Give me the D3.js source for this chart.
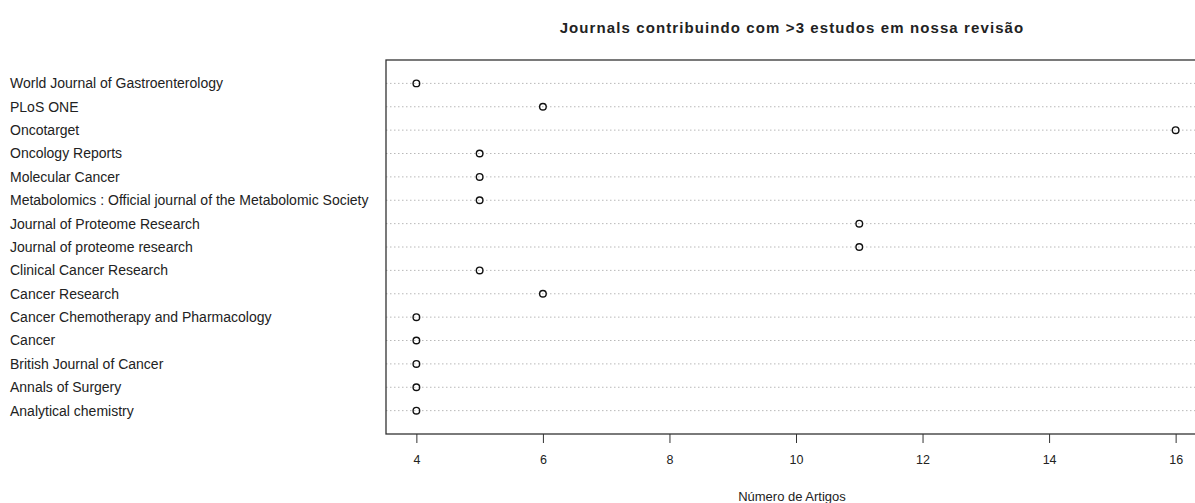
<!DOCTYPE html>
<html lang="pt">
<head>
  <meta charset="UTF-8">
  <title>Journals dotchart</title>
  <style>
  body { margin: 0; background: #fff; }
  text { font-family: "Liberation Sans", Arial, sans-serif; fill: #222; }
  .grid { stroke: #b8b8b8; stroke-dasharray: 1.5 2.5; stroke-width: 1; }
  .dot { fill: none; stroke: #111; stroke-width: 1.4; }
  </style>
  <script src="https://cdnjs.cloudflare.com/ajax/libs/d3/7.8.5/d3.min.js"></script>
</head>
<body>
<div id="chart"></div>
<script>
// journals, top to bottom as drawn
var journals = [
  "World Journal of Gastroenterology",
  "PLoS ONE",
  "Oncotarget",
  "Oncology Reports",
  "Molecular Cancer",
  "Metabolomics : Official journal of the Metabolomic Society",
  "Journal of Proteome Research",
  "Journal of proteome research",
  "Clinical Cancer Research",
  "Cancer Research",
  "Cancer Chemotherapy and Pharmacology",
  "Cancer",
  "British Journal of Cancer",
  "Annals of Surgery",
  "Analytical chemistry"
];
var counts = [4, 6, 16, 5, 5, 5, 11, 11, 5, 6, 4, 4, 4, 4, 4];
var xTicks = [4, 6, 8, 10, 12, 14, 16];

var width = 1195, height = 503;
var box = {left: 386, right: 1206, top: 60, bottom: 434};
var n = journals.length;

var svg = d3.select("#chart").append("svg")
    .attr("width", width)
    .attr("height", height);

// R style: 4% extension on x
var lo = d3.min(counts), hi = d3.max(counts), pad = (hi - lo) * 0.04;
var x = d3.scaleLinear()
    .domain([lo - pad, hi + pad])
    .range([box.left, box.right]);

var y = d3.scaleLinear()
    .domain([0, n + 1])
    .range([box.bottom, box.top]);

function rowY(i) { return y(n - i); }

// dotted guide lines
svg.selectAll(".grid")
    .data(journals)
    .enter().append("line")
    .attr("class", "grid")
    .attr("x1", box.left)
    .attr("x2", box.right)
    .attr("y1", function(d, i) { return rowY(i); })
    .attr("y2", function(d, i) { return rowY(i); });

// points
svg.selectAll(".dot")
    .data(counts)
    .enter().append("circle")
    .attr("class", "dot")
    .attr("cx", function(d) { return x(d); })
    .attr("cy", function(d, i) { return rowY(i); })
    .attr("r", 3.3);

// row labels
svg.selectAll(".lab")
    .data(journals)
    .enter().append("text")
    .attr("class", "lab")
    .attr("x", 10)
    .attr("y", function(d, i) { return rowY(i); })
    .attr("dy", "0.35em")
    .attr("font-size", "14px")
    .text(function(d) { return d; });

// box
svg.append("rect")
    .attr("x", box.left)
    .attr("y", box.top)
    .attr("width", box.right - box.left)
    .attr("height", box.bottom - box.top)
    .attr("fill", "none")
    .attr("stroke", "#333")
    .attr("stroke-width", 1.3);

// x axis
var axis = svg.append("g")
    .attr("transform", "translate(0," + box.bottom + ")")
    .call(d3.axisBottom(x).tickValues(xTicks).tickSize(9).tickPadding(12).tickSizeOuter(0));
axis.select(".domain").remove();
axis.selectAll("line").attr("stroke", "#333");
axis.selectAll("text")
    .attr("font-size", "12.5px")
    .attr("font-family", "'Liberation Sans Narrow', 'Liberation Sans', Arial, sans-serif")
    .attr("fill", "#222");

var midX = 792;

svg.append("text")
    .attr("x", midX)
    .attr("y", 496)
    .attr("dy", "0.35em")
    .attr("text-anchor", "middle")
    .attr("font-size", "13px")
    .text("Número de Artigos");

svg.append("text")
    .attr("x", midX)
    .attr("y", 28)
    .attr("dy", "0.35em")
    .attr("text-anchor", "middle")
    .attr("font-size", "15px")
    .attr("font-weight", "bold")
    .attr("letter-spacing", "1.1px")
    .text("Journals contribuindo com >3 estudos em nossa revisão");
</script>
</body>
</html>
